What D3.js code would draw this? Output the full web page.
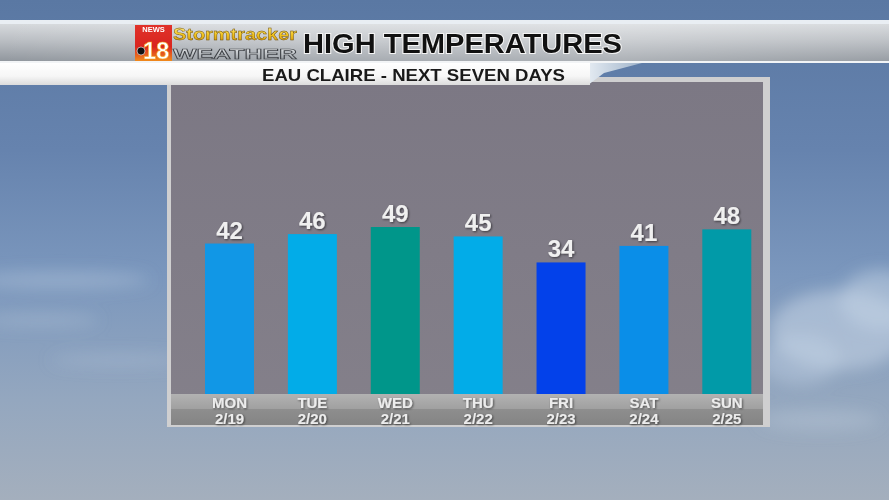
<!DOCTYPE html>
<html>
<head>
<meta charset="utf-8">
<script src="https://cdn.jsdelivr.net/npm/d3@7"></script>
<style>
  html, body { margin: 0; padding: 0; background: #6f8db6; }
  svg { display: block; }
</style>
</head>
<body>
<svg id="chart" width="889" height="500"></svg>
<script>
// ---- data ----
const days = ["MON", "TUE", "WED", "THU", "FRI", "SAT", "SUN"];
const dates = ["2/19", "2/20", "2/21", "2/22", "2/23", "2/24", "2/25"];
const highs = [42, 46, 49, 45, 34, 41, 48];
const barColors = ["#1197e6", "#02ace8", "#00968a", "#02ace8", "#0341ea", "#0a8ee8", "#019aa8"];
const title = "HIGH TEMPERATURES";
const subtitle = "EAU CLAIRE - NEXT SEVEN DAYS";

const svg = d3.select("#chart");
const defs = svg.append("defs");
const font = "'Liberation Sans', Arial, Helvetica, sans-serif";

function linGrad(id, x2, y2, stops) {
  const g = defs.append("linearGradient").attr("id", id)
    .attr("x1", 0).attr("y1", 0).attr("x2", x2).attr("y2", y2);
  stops.forEach(s => g.append("stop").attr("offset", s[0]).attr("stop-color", s[1]));
}
linGrad("bg", 0, 1, [[0, "#5a78a3"], [0.3, "#6683ae"], [0.55, "#7b97bd"], [0.8, "#94a7bf"], [1, "#a4afbd"]]);
linGrad("banner", 0, 1, [[0, "#d6d9dc"], [0.45, "#b9bdc2"], [1, "#8f959c"]]);
linGrad("bannerH", 1, 0, [[0, "#ffffff00"], [0.35, "#ffffff30"], [0.7, "#ffffff40"], [1, "#ffffff10"]]);
linGrad("whiteband", 0, 1, [[0, "#ffffff"], [0.6, "#f6f6f6"], [1, "#dcdcdc"]]);
linGrad("tail", 1, 0, [[0, "#e8eef4"], [1, "#9fb3ca"]]);
linGrad("panel", 0, 1, [[0, "#7c7884"], [1, "#84808a"]]);
linGrad("strip1", 0, 1, [[0, "#b2b2b2"], [1, "#a0a0a0"]]);
linGrad("strip2", 0, 1, [[0, "#8e8e8e"], [1, "#848484"]]);
linGrad("red", 0, 1, [[0, "#e0322a"], [0.6, "#d9251f"], [1, "#f08a1c"]]);
linGrad("gold", 0, 1, [[0, "#fff3a0"], [0.5, "#f2c521"], [1, "#c98a0a"]]);
linGrad("silver", 0, 1, [[0, "#f4f5f6"], [0.5, "#c4c8cc"], [1, "#8a8e93"]]);

const blur = defs.append("filter").attr("id", "blur").attr("x", "-50%").attr("y", "-50%").attr("width", "200%").attr("height", "200%");
blur.append("feGaussianBlur").attr("stdDeviation", 8);
const shadow = defs.append("filter").attr("id", "shadow").attr("x", "-20%").attr("y", "-20%").attr("width", "140%").attr("height", "140%");
shadow.append("feDropShadow").attr("dx", 1).attr("dy", 1).attr("stdDeviation", 0.8)
  .attr("flood-color", "#000").attr("flood-opacity", 0.55);

// ---- background ----
svg.append("rect").attr("width", 889).attr("height", 500).attr("fill", "url(#bg)");
const clouds = svg.append("g").attr("filter", "url(#blur)");
[[840, 330, 70, 40, 0.55], [800, 360, 40, 25, 0.4], [880, 300, 40, 30, 0.5],
 [60, 280, 90, 8, 0.35], [40, 320, 60, 6, 0.3], [120, 360, 70, 6, 0.25], [820, 420, 60, 10, 0.3]]
  .forEach(c => clouds.append("ellipse").attr("cx", c[0]).attr("cy", c[1])
    .attr("rx", c[2]).attr("ry", c[3]).attr("fill", "#c6d5e6").attr("opacity", c[4]));

// ---- header ----
svg.append("rect").attr("x", 0).attr("y", 20).attr("width", 889).attr("height", 4).attr("fill", "#e9eef3");
svg.append("rect").attr("x", 0).attr("y", 24).attr("width", 889).attr("height", 38).attr("fill", "url(#banner)");
svg.append("rect").attr("x", 0).attr("y", 24).attr("width", 889).attr("height", 38).attr("fill", "url(#bannerH)");
svg.append("rect").attr("x", 0).attr("y", 61).attr("width", 889).attr("height", 2).attr("fill", "#f2f4f6");

// logo
const logo = svg.append("g");
logo.append("rect").attr("x", 135).attr("y", 25).attr("width", 37).attr("height", 36).attr("fill", "url(#red)");
logo.append("text").attr("x", 153.5).attr("y", 32).attr("text-anchor", "middle")
  .attr("font-family", font).attr("font-weight", "bold").attr("font-size", 7.5).attr("fill", "#fff").text("NEWS");
logo.append("text").attr("x", 156).attr("y", 59).attr("text-anchor", "middle")
  .attr("font-family", font).attr("font-weight", "bold").attr("font-size", 24)
  .attr("fill", "#fff").attr("stroke", "#f5a623").attr("stroke-width", 0.6).text("18");
logo.append("circle").attr("cx", 141).attr("cy", 51).attr("r", 4).attr("fill", "#111").attr("stroke", "#fff").attr("stroke-width", 0.6);
logo.append("text").attr("x", 173).attr("y", 40).attr("font-family", font).attr("font-weight", "bold")
  .attr("font-size", 17).attr("fill", "url(#gold)").attr("stroke", "#6b4a00").attr("stroke-width", 0.4)
  .attr("textLength", 124).attr("lengthAdjust", "spacingAndGlyphs").text("Stormtracker");
logo.append("text").attr("x", 173).attr("y", 58.5).attr("font-family", font).attr("font-weight", "bold")
  .attr("font-size", 15.5).attr("fill", "url(#silver)").attr("stroke", "#3c3f44").attr("stroke-width", 0.7)
  .attr("textLength", 124).attr("lengthAdjust", "spacingAndGlyphs").text("WEATHER");

svg.append("text").attr("x", 303).attr("y", 52.5)
  .attr("font-family", font).attr("font-weight", "bold").attr("font-size", 27)
  .attr("fill", "#111").attr("stroke", "#f4f4f4").attr("stroke-width", 2).attr("paint-order", "stroke")
  .attr("textLength", 319).attr("lengthAdjust", "spacingAndGlyphs").text(title);

// ---- chart panel (border + fill) ----
svg.append("rect").attr("x", 167).attr("y", 77).attr("width", 603).attr("height", 350).attr("fill", "#cfcfd0");
svg.append("rect").attr("x", 171).attr("y", 82).attr("width", 592).attr("height", 343).attr("fill", "url(#panel)");

// white subtitle band (drawn over panel top)
svg.append("path").attr("d", "M585,63 L642,63 L604,73 L588,85 Z").attr("fill", "url(#tail)");
svg.append("rect").attr("x", 0).attr("y", 63).attr("width", 590).attr("height", 22).attr("fill", "url(#whiteband)");
svg.append("text").attr("x", 262).attr("y", 80.5)
  .attr("font-family", font).attr("font-weight", "bold").attr("font-size", 17).attr("fill", "#1a1a1a")
  .attr("textLength", 303).attr("lengthAdjust", "spacingAndGlyphs").text(subtitle);

// ---- scales ----
const x = d3.scaleBand().domain(days).range([205, 751.3]).paddingInner(0.409).paddingOuter(0);
const y = d3.scaleLinear().domain([-21.7, 49]).range([394, 227]);

// label strip
svg.append("rect").attr("x", 171).attr("y", 394).attr("width", 592).attr("height", 15).attr("fill", "url(#strip1)");
svg.append("rect").attr("x", 171).attr("y", 409).attr("width", 592).attr("height", 16).attr("fill", "url(#strip2)");

const data = days.map((d, i) => ({ day: d, date: dates[i], v: highs[i], c: barColors[i] }));

svg.append("g").selectAll("rect").data(data).join("rect")
  .attr("x", d => x(d.day)).attr("width", x.bandwidth())
  .attr("y", d => y(d.v)).attr("height", d => y.range()[0] - y(d.v))
  .attr("fill", d => d.c);

svg.append("g").selectAll("text").data(data).join("text")
  .attr("x", d => x(d.day) + x.bandwidth() / 2).attr("y", d => y(d.v) - 5)
  .attr("text-anchor", "middle").attr("font-family", font).attr("font-weight", "bold")
  .attr("font-size", 24).attr("fill", "#f0f0f0").attr("filter", "url(#shadow)")
  .text(d => d.v);

const lab = svg.append("g").attr("font-family", font).attr("font-weight", "bold")
  .attr("font-size", 15).attr("fill", "#ececec").attr("text-anchor", "middle").attr("filter", "url(#shadow)");
lab.selectAll("text.day").data(data).join("text").attr("class", "day")
  .attr("x", d => x(d.day) + x.bandwidth() / 2).attr("y", 407.5).text(d => d.day);
lab.selectAll("text.date").data(data).join("text").attr("class", "date")
  .attr("x", d => x(d.day) + x.bandwidth() / 2).attr("y", 423.5).text(d => d.date);
</script>
</body>
</html>
